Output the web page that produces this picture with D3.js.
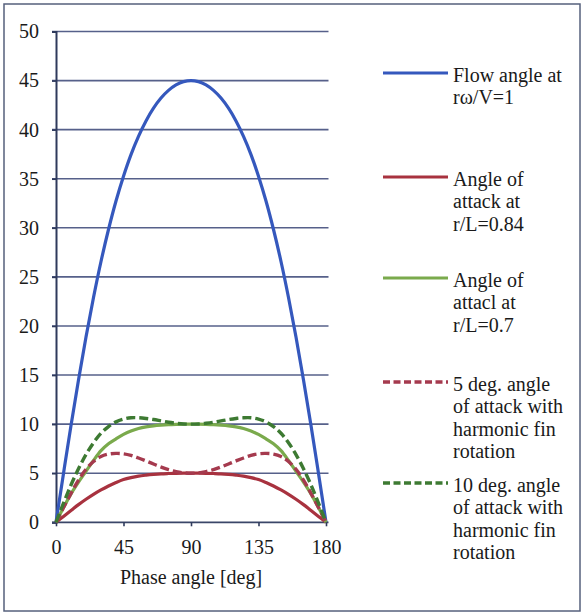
<!DOCTYPE html>
<html>
<head>
<meta charset="utf-8">
<script src="https://cdn.jsdelivr.net/npm/d3@7"></script>
</head>
<body style="margin:0">
<script>
// Phase angle samples [deg]
const phase = [0,5,10,15,20,25,30,35,40,45,50,55,60,65,70,75,80,85,90,
               95,100,105,110,115,120,125,130,135,140,145,150,155,160,165,170,175,180];

// Flow angle at rω/V = 1 [deg]
const flowAngle = [0,4.98,9.86,14.5,18.88,22.9,26.57,29.83,32.73,35.26,37.46,39.32,40.89,42.19,43.22,44.0,44.56,44.89,45,
                   44.89,44.56,44.0,43.22,42.19,40.89,39.32,37.46,35.26,32.73,29.83,26.57,22.9,18.88,14.5,9.86,4.98,0];

// Angle of attack at r/L = 0.84 [deg]
const aoa084 = [0,0.6,1.2,1.8,2.35,2.85,3.3,3.7,4.05,4.35,4.55,4.7,4.8,4.88,4.94,4.97,4.99,5.0,5.0,
                5.0,4.99,4.97,4.94,4.88,4.8,4.7,4.55,4.35,4.05,3.7,3.3,2.85,2.35,1.8,1.2,0.6,0];

// Angle of attack at r/L = 0.7 [deg]
const aoa07 = [0,1.5,2.9,4.1,5.2,6.3,7.3,8.0,8.5,8.95,9.3,9.55,9.72,9.83,9.9,9.95,9.98,10,10,
               10,9.98,9.95,9.9,9.83,9.72,9.55,9.3,8.95,8.5,8.0,7.3,6.3,5.2,4.1,2.9,1.5,0];

// 5 deg. angle of attack with harmonic fin rotation [deg]
const harm5 = [0,1.5,2.95,4.3,5.4,6.2,6.7,6.95,7.02,6.98,6.82,6.55,6.25,5.94,5.63,5.36,5.17,5.04,5.0,
               5.04,5.17,5.36,5.63,5.94,6.25,6.55,6.82,6.98,7.02,6.95,6.7,6.2,5.4,4.3,2.95,1.5,0];

// 10 deg. angle of attack with harmonic fin rotation [deg]
const harm10 = [0,1.95,3.8,5.45,6.9,8.1,9.07,9.75,10.23,10.51,10.65,10.65,10.58,10.47,10.33,10.19,10.09,10.02,10,
                10.02,10.09,10.19,10.33,10.47,10.58,10.65,10.65,10.51,10.23,9.75,9.07,8.1,6.9,5.45,3.8,1.95,0];

const xTicks = [0,45,90,135,180];
const yTicks = [0,5,10,15,20,25,30,35,40,45,50];

const seriesNames = [
  ["Flow angle at", "rω/V=1"],
  ["Angle of", "attack at", "r/L=0.84"],
  ["Angle of", "attacl at", "r/L=0.7"],
  ["5 deg. angle", "of attack with", "harmonic fin", "rotation"],
  ["10 deg. angle", "of attack with", "harmonic fin", "rotation"]
];

const series = [
  { values: flowAngle, color: "#3558bd", dash: null, legendY: 73 },
  { values: aoa084,   color: "#a8323f", dash: null, legendY: 177 },
  { values: aoa07,    color: "#7aaa4c", dash: null, legendY: 278 },
  { values: harm5,    color: "#a53a4e", dash: "9,4", legendY: 382 },
  { values: harm10,   color: "#3d7a32", dash: "9,4", legendY: 483 }
];

const FONT = '"Liberation Serif", monospace';
const TEXT_COLOR = "#1a1a1a";

// apply the label typeface to a text selection
function serifText(sel) {
  sel.attr("font-size", 20).style("font-family", FONT).attr("fill", TEXT_COLOR);
}

const W = 584, H = 615;
const svg = d3.select("body").append("svg").attr("width", W).attr("height", H)
  .style("display", "block");

// outer frame
svg.append("rect").attr("x", 4).attr("y", 4).attr("width", W - 8).attr("height", H - 8)
  .attr("fill", "#fff").attr("stroke", "#56607c").attr("stroke-width", 1.5);

const x = d3.scaleLinear().domain([0, 180]).range([56, 326]);
const y = d3.scaleLinear().domain([0, 50]).range([522.3, 31.5]);

// horizontal gridlines
svg.append("g").selectAll("line").data(yTicks.filter(d => d > 0)).join("line")
  .attr("x1", x(0) - 4).attr("x2", x(180) + 2.5)
  .attr("y1", d => y(d)).attr("y2", d => y(d))
  .attr("stroke", "#56608a").attr("stroke-width", 1.6);

// y axis
const yAxis = d3.axisLeft(y).tickValues(yTicks).tickSize(4).tickPadding(13).tickFormat(d3.format("d"));
const gy = svg.append("g").attr("transform", `translate(${x(0)},0)`).call(yAxis);
gy.attr("font-family", null).attr("font-size", null);
gy.select(".domain").attr("stroke", "#2f3a5c").attr("stroke-width", 2);
gy.selectAll(".tick line").attr("stroke", "#2f3a5c").attr("stroke-width", 1.6);
gy.selectAll(".tick text").call(serifText);

// x axis
const xAxis = d3.axisBottom(x).tickValues(xTicks).tickSize(4).tickPadding(14).tickFormat(d3.format("d"));
const gx = svg.append("g").attr("transform", `translate(0,${y(0)})`).call(xAxis);
gx.attr("font-family", null).attr("font-size", null);
gx.select(".domain").attr("stroke", "#3a4668").attr("stroke-width", 1.8)
  .attr("d", `M${x(0) - 4},0H${x(180) + 2.5}`);
gx.selectAll(".tick line").attr("stroke", "#2f3a5c").attr("stroke-width", 1.6);
gx.selectAll(".tick text").call(serifText);

// axis title
svg.append("text").attr("x", 191).attr("y", 584).attr("text-anchor", "middle")
  .call(serifText).text("Phase angle [deg]");

// curves
const line = d3.line().x((d, i) => x(phase[i])).y(d => y(d)).curve(d3.curveCatmullRom.alpha(0.5));
const gLines = svg.append("g").attr("fill", "none");
series.forEach(s => {
  gLines.append("path").datum(s.values)
    .attr("d", line)
    .attr("stroke", s.color)
    .attr("stroke-width", s.dash ? 3.4 : 3.2)
    .attr("stroke-dasharray", s.dash)
    .attr("stroke-linejoin", "round");
});

// legend
const lg = svg.append("g");
series.forEach((s, i) => {
  lg.append("line").attr("x1", 383).attr("x2", 448)
    .attr("y1", s.legendY).attr("y2", s.legendY)
    .attr("stroke", s.color).attr("stroke-width", s.dash ? 3.6 : 3.2)
    .attr("stroke-dasharray", s.dash ? "7,3.5" : null);
  const t = lg.append("text").attr("x", 453).attr("y", s.legendY + 8.5).call(serifText);
  seriesNames[i].forEach((ln, j) => {
    t.append("tspan").attr("x", 453).attr("dy", j === 0 ? 0 : 22.5).text(ln);
  });
});
</script>
</body>
</html>
